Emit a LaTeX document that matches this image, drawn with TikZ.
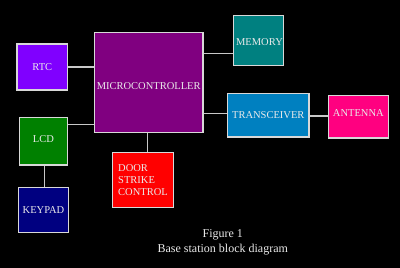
\documentclass[tikz,border=0pt]{standalone}
\usepackage{fontspec}
\setmainfont{Liberation Serif}
\definecolor{cRTC}{HTML}{8000FF}
\definecolor{cMC}{HTML}{800080}
\definecolor{cLCD}{HTML}{008000}
\definecolor{cKEY}{HTML}{000080}
\definecolor{cDOOR}{HTML}{FF0000}
\definecolor{cMEM}{HTML}{008080}
\definecolor{cTRX}{HTML}{0080C0}
\definecolor{cANT}{HTML}{FF0080}
\definecolor{txt}{HTML}{EAEAEA}
\definecolor{bord}{HTML}{D8D8D8}
\definecolor{wire}{HTML}{C8C8C8}
\begin{document}
\begin{tikzpicture}[x=1pt,y=-1pt,
  blk/.style={draw=bord,line width=1.3pt,inner sep=0pt,text=txt,
    font=\fontsize{10.5}{11.7}\selectfont},
  blktext/.style={text=txt,inner sep=0pt,font=\fontsize{10.5}{11.7}\selectfont},
  wirel/.style={draw=wire,line width=1.3pt},
  captext/.style={text=txt,font=\fontsize{12}{13}\selectfont,inner sep=0pt}]
\fill[black] (0,0) rectangle (400,268);
\useasboundingbox (0,0) rectangle (400,268);
\node[blk,fill=cRTC,minimum width=50.5pt,minimum height=46pt] (rtc) at (42.3,67) {RTC};
\node[blk,fill=cMC,minimum width=108.7pt,minimum height=100pt] (mc) at (148.7,82.3) {};
\node[blktext] (mct) at (148.7,86) {MICROCONTROLLER};
\node[blk,fill=cLCD,minimum width=48.4pt,minimum height=47.7pt] (lcd) at (43.5,141.2) {};
\node[blktext] (lcdt) at (43.5,139.3) {LCD};
\node[blk,fill=cKEY,minimum width=50.4pt,minimum height=45.4pt] (key) at (43.5,210) {KEYPAD};
\node[blk,fill=cDOOR,minimum width=61.4pt,minimum height=54.6pt,align=left] (door) at (143,180) {DOOR\\STRIKE\\CONTROL};
\node[blk,fill=cMEM,minimum width=50.4pt,minimum height=49.6pt] (mem) at (258.5,40.5) {};
\node[blktext] (memt) at (259.5,41.7) {MEMORY};
\node[blk,fill=cTRX,minimum width=81.3pt,minimum height=43.7pt] (trx) at (268.3,115.2) {TRANSCEIVER};
\node[blk,fill=cANT,minimum width=60pt,minimum height=42.3pt] (ant) at (358.3,116.8) {};
\node[blktext] (antt) at (358.3,113.3) {ANTENNA};
\coordinate (ylcd) at (0,124.3);
\coordinate (ymem) at (0,53.3);
\coordinate (ytrx) at (0,113.7);
\coordinate (yant) at (0,116);
\coordinate (xdoor) at (147.3,0);
\coordinate (xkey) at (44.3,0);
\draw[wirel] (rtc.east) -- (rtc.east -| mc.west);
\draw[wirel] (lcd.east |- ylcd) -- (mc.west |- ylcd);
\draw[wirel] (mc.east |- ymem) -- (mem.west |- ymem);
\draw[wirel] (mc.east |- ytrx) -- (trx.west |- ytrx);
\draw[wirel] (trx.east |- yant) -- (ant.west |- yant);
\draw[wirel] (mc.south -| xdoor) -- (door.north -| xdoor);
\draw[wirel] (lcd.south -| xkey) -- (key.north -| xkey);
\node[captext] (fig) at (222.8,235) {Figure 1};
\node[captext] (sub) at (222.8,249.5) {Base station block diagram};
\end{tikzpicture}
\end{document}
